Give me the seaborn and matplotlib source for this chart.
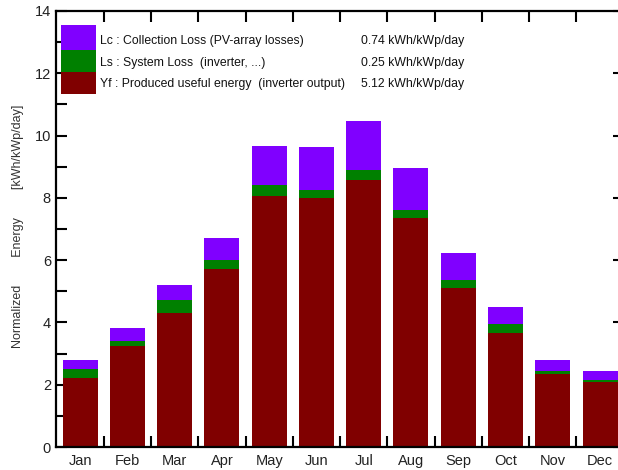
import numpy as np
import pandas as pd
import matplotlib
matplotlib.use("Agg")
import matplotlib.pyplot as plt
from matplotlib.patches import Rectangle
import seaborn as sns

# Monthly normalized energy (kWh/kWp/day)
months = ["Jan", "Feb", "Mar", "Apr", "May", "Jun",
          "Jul", "Aug", "Sep", "Oct", "Nov", "Dec"]
yf = [2.23, 3.23, 4.30, 5.71, 8.05, 7.98, 8.57, 7.35, 5.12, 3.67, 2.36, 2.09]
ls = [0.29, 0.16, 0.43, 0.28, 0.35, 0.28, 0.32, 0.27, 0.25, 0.27, 0.07, 0.07]
lc = [0.28, 0.43, 0.48, 0.73, 1.27, 1.36, 1.57, 1.34, 0.87, 0.56, 0.37, 0.28]

legend_labels = ["Lc : Collection Loss (PV-array losses)",
                 "Ls : System Loss  (inverter, ...)",
                 "Yf : Produced useful energy  (inverter output)"]
legend_values = ["0.74 kWh/kWp/day", "0.25 kWh/kWp/day", "5.12 kWh/kWp/day"]

c_lc, c_ls, c_yf = "#8000FF", "#008000", "#800000"

sns.set_theme(style="white")
plt.rcParams["font.family"] = ["Liberation Sans", "DejaVu Sans"]

df = pd.DataFrame({"month": months, "yf": yf, "ls": ls, "lc": lc})
df["top_ls"] = df["yf"] + df["ls"]
df["top_lc"] = df["top_ls"] + df["lc"]

fig = plt.figure(figsize=(6.18, 4.70), dpi=100)
ax = fig.add_axes([0.0914, 0.0489, 0.9178, 0.9277])

# stacked bars drawn as overlapping cumulative heights
bw = 0.74
sns.barplot(data=df, x="month", y="top_lc", color=c_lc, saturation=1,
            width=bw, linewidth=0, ax=ax)
sns.barplot(data=df, x="month", y="top_ls", color=c_ls, saturation=1,
            width=bw, linewidth=0, ax=ax)
sns.barplot(data=df, x="month", y="yf", color=c_yf, saturation=1,
            width=bw, linewidth=0, ax=ax)

ax.set_xlim(-0.5, 11.5)
ax.set_ylim(0, 14)

for s in ax.spines.values():
    s.set_visible(True)
    s.set_color("black")
    s.set_linewidth(1.6)

# y ticks
ax.set_yticks(np.arange(0, 15, 2))
ax.set_yticks(np.arange(1, 14, 2), minor=True)
ax.tick_params(axis="y", which="both", direction="in", length=8, width=1.5,
               left=True, right=True, labelsize=10.5, pad=4, color="black",
               labelcolor="#222222")
ax.tick_params(axis="y", which="minor", right=False)

# x ticks: labels at bar centres, marks on cell boundaries
ax.set_xticks(np.arange(12))
ax.set_xticks(np.arange(0.5, 11.5, 1), minor=True)
ax.tick_params(axis="x", which="major", length=0, labelsize=10.5, pad=5,
               labelcolor="#222222")
ax.tick_params(axis="x", which="minor", direction="in", length=8, width=1.5,
               bottom=True, top=True, color="black")

ax.set_xlabel("")
ax.set_ylabel("Normalized" + " " * 8 + "Energy" + " " * 8 + "[kWh/kWp/day]",
              fontsize=9, color="#333333")
ax.yaxis.set_label_coords(-0.058, 0.507)

# legend block
patch_x, patch_w = 0.0074, 0.0617
rows = [(0.9106, 0.0573, c_lc), (0.8601, 0.0505, c_ls), (0.8096, 0.0505, c_yf)]
for y0, h, col in rows:
    ax.add_patch(Rectangle((patch_x, y0), patch_w, h, transform=ax.transAxes,
                           facecolor=col, edgecolor="none", zorder=5))
text_y = [0.9305, 0.8814, 0.8326]
for lab, val, ty in zip(legend_labels, legend_values, text_y):
    ax.text(0.0767, ty, lab, transform=ax.transAxes, fontsize=8.8,
            va="center", ha="left", color="#111111")
    ax.text(0.5368, ty, val, transform=ax.transAxes, fontsize=8.8,
            va="center", ha="left", color="#111111")

fig.savefig("out.png", dpi=100)
